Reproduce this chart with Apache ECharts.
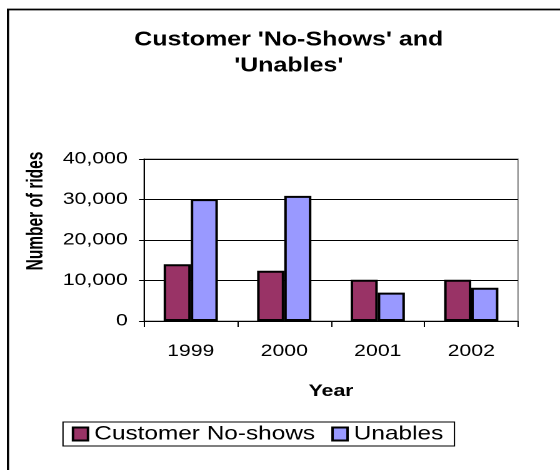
<!DOCTYPE html>
<html>
<head>
<meta charset="utf-8">
<script src="https://cdn.jsdelivr.net/npm/echarts@6/dist/echarts.min.js"></script>
<style>
  html, body { margin: 0; padding: 0; background: #fff; overflow: hidden; }
  /* The chart is laid out on a 448px-wide canvas and widened to 560px,
     giving the broad letterforms and bars of the original slide graphic. */
  #chart { width: 448px; height: 470px; transform: scaleX(1.25); transform-origin: 0 0; }
</style>
</head>
<body>
<div id="chart"></div>
<script>
// Yearly ride counts for the two customer categories
const years = ['1999', '2000', '2001', '2002'];
const noShows = [14000, 12400, 10200, 10200];
const unables = [30100, 30900, 7000, 8200];
const yTicks = [0, 10000, 20000, 30000, 40000];

const FONT = '"Liberation Sans", Arial, sans-serif';
const chart = echarts.init(document.getElementById('chart'), null, { renderer: 'canvas', devicePixelRatio: 2 });

chart.setOption({
  animation: false,
  backgroundColor: '#ffffff',
  textStyle: { fontFamily: FONT, color: '#000' },
  title: {
    text: "Customer 'No-Shows' and\n'Unables'",
    left: 226,
    top: 22,
    textAlign: 'center',
    textStyle: { fontFamily: FONT, fontSize: 20, fontWeight: 'bold', color: '#000', lineHeight: 26 }
  },
  grid: { left: 115.2, top: 159, width: 299.2, height: 162, show: true, borderColor: '#808080', borderWidth: 1, backgroundColor: '#fff' },
  legend: {
    left: 50.4,
    top: 422,
    padding: [2, 9, 2, 7],
    itemGap: 13,
    itemWidth: 12,
    itemHeight: 13,
    borderColor: '#000',
    borderWidth: 1,
    icon: 'rect',
    textStyle: { fontFamily: FONT, fontSize: 19.5, color: '#000' },
    data: ['Customer No-shows', 'Unables']
  },
  xAxis: {
    type: 'category',
    data: years,
    name: 'Year',
    nameLocation: 'middle',
    nameGap: 62,
    nameTextStyle: { fontFamily: FONT, fontSize: 17, fontWeight: 'bold', color: '#000' },
    axisLine: { lineStyle: { color: '#000', width: 1 } },
    axisTick: { show: true, alignWithLabel: false, length: 6, lineStyle: { color: '#000' } },
    axisLabel: { margin: 22, fontFamily: FONT, fontSize: 17, color: '#000' }
  },
  yAxis: {
    type: 'value',
    min: yTicks[0],
    max: yTicks[yTicks.length - 1],
    interval: yTicks[1] - yTicks[0],
    axisLine: { show: true, lineStyle: { color: '#000', width: 1 } },
    axisTick: { show: true, length: 4, lineStyle: { color: '#000' } },
    splitLine: { show: true, lineStyle: { color: '#000', width: 1 } },
    axisLabel: {
      margin: 13,
      fontFamily: FONT,
      fontSize: 17,
      color: '#000',
      formatter: v => v.toLocaleString('en-US')
    }
  },
  graphic: [
    {
      // vertical axis title, slightly condensed along its length
      type: 'text',
      x: 28.8,
      y: 211,
      rotation: Math.PI / 2,
      scaleX: 0.86,
      style: {
        text: 'Number of rides',
        fontFamily: FONT,
        fontSize: 18,
        fontWeight: 'bold',
        fill: '#000',
        align: 'center',
        verticalAlign: 'middle'
      }
    },
    {
      type: 'polyline',
      shape: { points: [[6.4, 600], [6.4, 9.5], [600, 9.5]] },
      style: { stroke: '#000', lineWidth: 1.8, fill: null },
      silent: true
    }
  ],
  series: [
    {
      name: 'Customer No-shows',
      type: 'bar',
      data: noShows,
      barGap: '0%',
      barCategoryGap: '42%',
      itemStyle: { color: '#993366', borderColor: '#000', borderWidth: 2 }
    },
    {
      name: 'Unables',
      type: 'bar',
      data: unables,
      itemStyle: { color: '#9999ff', borderColor: '#000', borderWidth: 2 }
    }
  ]
});
</script>
</body>
</html>
